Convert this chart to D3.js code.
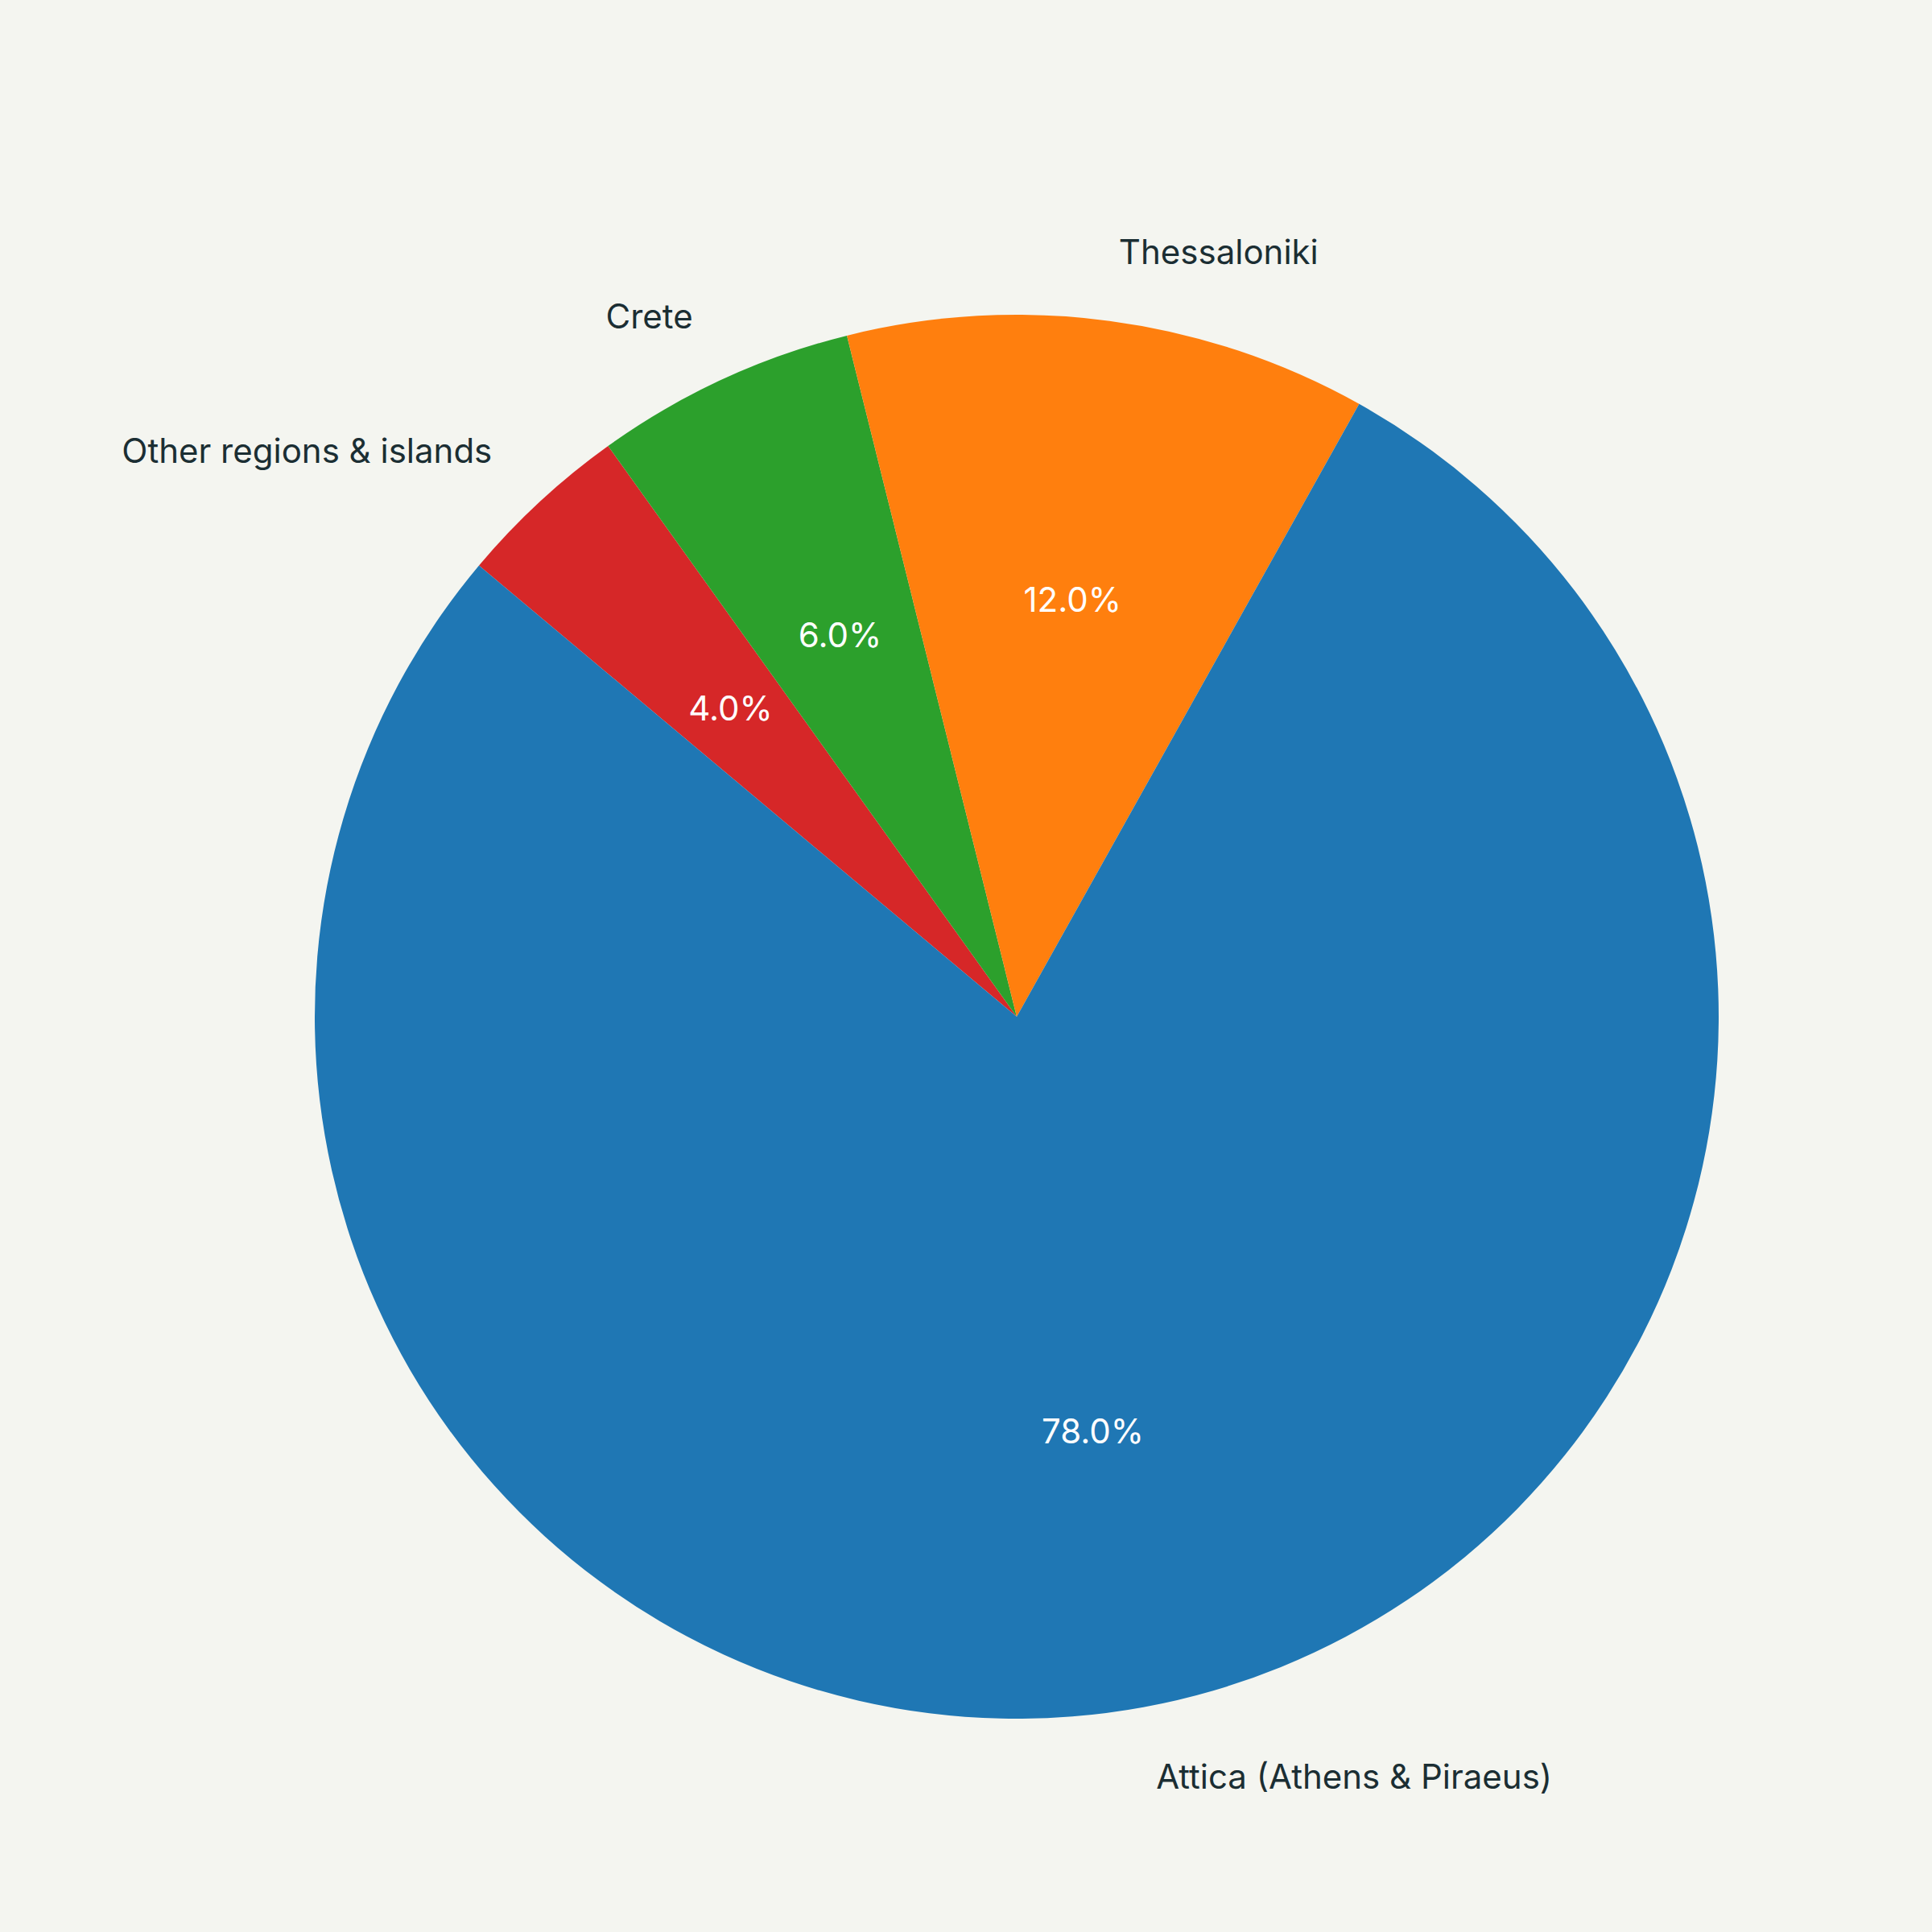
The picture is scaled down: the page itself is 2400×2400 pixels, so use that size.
<!DOCTYPE html>
<html><head><meta charset="utf-8">
<script src="https://cdn.jsdelivr.net/npm/d3@7"></script>
<style>body{margin:0;background:#f4f5f0}</style></head>
<body><svg id="c" width="2400" height="2400"></svg>
<script>
const categories = ["Attica (Athens & Piraeus)", "Thessaloniki", "Crete", "Other regions & islands"];
const values = [78, 12, 6, 4];
const colors = ["#1f77b4", "#ff7f0e", "#2ca02c", "#d62728"];

const svg = d3.select("#c");
svg.append("rect").attr("width",2400).attr("height",2400).attr("fill","#f4f5f0");
const cx = 1263, cy = 1263, r = 872;
const g = svg.append("g").attr("transform",`translate(${cx},${cy})`);
// matplotlib-like: startangle 140, counterclockwise
const idx = d3.range(values.length).reverse();
const pie = d3.pie().sort(null).value(i => values[i])
  .startAngle(-50*Math.PI/180).endAngle(310*Math.PI/180);
const arcs = pie(idx);
const arc = d3.arc().innerRadius(0).outerRadius(r);
g.selectAll("path").data(arcs).join("path").attr("d",arc).attr("fill",d=>colors[d.data]);
const font = "Inter, 'DejaVu Sans', sans-serif";
arcs.forEach(d=>{
  const a = (d.startAngle+d.endAngle)/2;
  const sx = Math.sin(a), sy = -Math.cos(a);
  g.append("text").attr("x",sx*r*1.1).attr("y",sy*r*1.1)
    .attr("text-anchor", sx>0?"start":"end").attr("dominant-baseline","central")
    .attr("font-family",font).attr("font-size",42).attr("fill","#1b2e33")
    .text(categories[d.data]);
  const pct = values[d.data]/d3.sum(values)*100;
  g.append("text").attr("x",sx*r*0.6).attr("y",sy*r*0.6)
    .attr("text-anchor","middle").attr("dominant-baseline","central")
    .attr("font-family",font).attr("font-size",42).attr("fill","#ffffff")
    .text(pct.toFixed(1)+"%");
});
</script></body></html>
